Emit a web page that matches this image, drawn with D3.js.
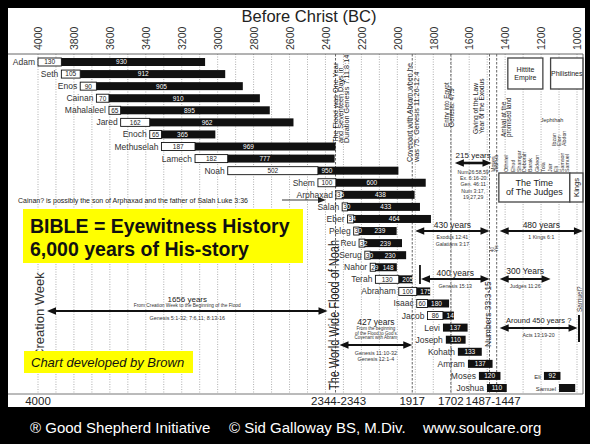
<!DOCTYPE html>
<html><head><meta charset="utf-8">
<script src="https://cdn.jsdelivr.net/npm/d3@7"></script>
<style>body{margin:0;background:#000;} svg{display:block;} text{font-family:"Liberation Sans",Arial,Helvetica,sans-serif;}</style>
</head><body><svg id="c" width="590" height="444"></svg>
<script>
// ---------- DATA ----------
const tickYears = [4000,3800,3600,3400,3200,3000,2800,2600,2400,2200,2000,1800,1600,1400,1200,1000];
const gridYears = d3.range(4000, 999, -100);
const names = ["Adam","Seth","Enos","Cainan","Mahalaleel","Jared","Enoch","Methuselah","Lamech","Noah","Shem","Arphaxad","Salah","Eber","Peleg","Reu","Serug","Nahor","Terah","Abraham","Isaac","Jacob","Levi","Joseph","Kohath","Amram","Moses","Joshua","Eli","Samuel"];
const rowIndex = [0,1,2,3,4,5,6,7,8,9,10,11,12,13,14,15,16,17,18,19,20,21,22,23,24,25,26,27,26,27];
const bornBC = [4000,3870,3765,3675,3605,3540,3378,3313,3126,2944,2442,2342,2307,2277,2243,2213,2181,2151,2122,1992,1892,1832,1746,1730,1663,1607,1546,1501,1184,1100];
const begatAge = [130,105,90,70,65,162,65,187,182,502,100,35,30,34,30,32,30,29,130,100,60,86,0,0,0,0,0,0,0,0];
const lifespan = [930,912,905,910,895,962,365,969,777,950,600,438,433,464,239,239,230,148,205,175,180,147,137,110,133,137,120,110,92,90];
const lifeLabels = ["930","912","905","910","895","962","365","969","777","950","600","438","433","464","239","239","230","148","205","175","180","147","137","110","133","137","120","110","92",""];
const eventYears = [2344,1917,1702,1487,1447];
const bottomLabels = ["4000","2344-2343","1917","1702","1487-1447"];
const bottomFrom = [4000,2344,1917,1702,1487];
const bottomTo = [4000,2343,1917,1702,1447];
const periodLabels = ["1656 years","427 years","215 years","430 years","480 years","400 years","300 Years","Around 450 years ?"];
const periodFrom = [4000,2344,1702,1917,1447,1874,1447,1447];
const periodTo = [2344,1917,1487,1487,967,1487,1147,997];
const periodAbove = [["From Creation Week to the Beginning of the Flood"],["From the beginning","of the Flood to God's","Covenant with Abram"],[],[],[],[],[],[]];
const periodBelow = [["Genesis 5:1-32; 7:6,11; 8:13-16"],["Genesis 11:10-32","Genesis 12:1-4"],["Num26:58,59","Ex. 6:16-20","Gen. 46:11","Num 3:17,","19,27,29"],["Exodus 12:41","Galatians 3:17"],["1 Kings 6:1"],["Genesis 15:13"],["Judges 11:26"],["Acts 13:19-20"]];
const judges = ["Moses","Joshua","Othniel","Ehud","Shamgar","Deborah","Barak","Gideon","Tola","Jair","Eli","Samson","Samuel"];
const judgeYears = [1470,1450,1395,1355,1322,1295,1262,1225,1190,1150,1118,1085,1055];
const minorJudges = ["Ibzan","Elon","Abdon"];
const minorJudgeYears = [1130,1102,1074];
const eraBoxes = ["Hittite\nEmpire","Philistines","The Time\nof The Judges","Kings"];
const eraFrom = [1385,1147,1435,1040];
const eraTo = [1190,967,1040,967];

// ---------- LAYOUT ----------
const F = '"Liberation Sans",Arial,Helvetica,sans-serif';
const svg = d3.select("#c");
const x = d3.scaleLinear().domain([4000,1000]).range([38,577]);
const rowY = d3.scaleLinear().domain([0,27]).range([62,388]);
const TOP = 54, BOT = 394, RIGHT = 583;

svg.append("rect").attr("width",590).attr("height",444).attr("fill","#000");
svg.append("rect").attr("x",8).attr("y",8).attr("width",577).attr("height",399).attr("fill","#fff");

// title
svg.append("text").attr("x",309).attr("y",22).attr("text-anchor","middle").attr("font-size",16.5).attr("fill","#222").text("Before Christ (BC)");

// gridlines
svg.append("g").selectAll("line").data(gridYears).join("line")
  .attr("x1",d=>x(d)).attr("x2",d=>x(d)).attr("y1",TOP).attr("y2",BOT)
  .attr("stroke","#9a9a9a").attr("stroke-width",0.8).attr("stroke-dasharray","1,1.5");

// event lines
svg.append("g").selectAll("line").data(eventYears).join("line")
  .attr("x1",d=>x(d)).attr("x2",d=>x(d)).attr("y1",TOP).attr("y2",BOT)
  .attr("stroke","#555").attr("stroke-width",0.9).attr("stroke-dasharray","2.5,1.5");

// frame
svg.append("line").attr("x1",8).attr("x2",RIGHT).attr("y1",TOP).attr("y2",TOP).attr("stroke","#666").attr("stroke-width",1);
svg.append("line").attr("x1",8).attr("x2",RIGHT).attr("y1",BOT).attr("y2",BOT).attr("stroke","#777").attr("stroke-width",1);
svg.append("line").attr("x1",RIGHT).attr("x2",RIGHT).attr("y1",TOP).attr("y2",BOT).attr("stroke","#666").attr("stroke-width",1);

// top axis
const ag = svg.append("g").attr("transform",`translate(0,${TOP})`)
  .call(d3.axisTop(x).tickValues(tickYears).tickSize(0).tickFormat(d=>String(d)));
ag.select(".domain").remove();
ag.attr("font-family",F).attr("font-size",10.5);
ag.selectAll("text").attr("transform","rotate(-90)").attr("x",4).attr("y",0).attr("dy","0.36em")
  .attr("text-anchor","start").attr("fill","#333");

// helper: rotated multi-line text (reads upward), baseline x of first line, bottom y
function rotText(lines, bx, by, size, step, color, anchor, len){
  const t = svg.append("text").attr("transform",`translate(${bx},${by}) rotate(-90)`)
    .attr("font-size",size).attr("fill",color||"#222").attr("text-anchor",anchor||"start");
  lines.forEach((l,i)=>{
    const s = t.append("tspan").attr("x",0).attr("y",i*step).text(l);
    if (len) s.attr("textLength",len).attr("lengthAdjust","spacingAndGlyphs");
  });
  return t;
}

// event annotations
rotText(["The Flood was One Year","and Seventeen Days in","Duration Genesis 7:11;8:14"], x(2344)+2, 143, 7.3, 5.6);
rotText(["Covenant with Abram when he","was 75. Genesis 11:26-12:4"], x(1917)-0.5, 162, 7.3, 7.2);
rotText(["Entry into Egypt","Genesis. 47:9"], x(1702)-2, 127, 6.3, 5.6);
rotText(["Giving of the Law","Year of the Exodus"], x(1487)-12, 134, 6.6, 6.2);
rotText(["Arrival at the","promised land"], x(1447)+9.5, 137, 6.3, 5.2);

// era boxes
const eraY = [[58,89],[58,89],[173,202],[173,202]];
eraBoxes.forEach((lbl,i)=>{
  const x0 = x(eraFrom[i]), x1 = Math.min(x(eraTo[i]), RIGHT);
  const [y0,y1] = eraY[i];
  svg.append("rect").attr("x",x0).attr("y",y0).attr("width",x1-x0).attr("height",y1-y0)
    .attr("fill","#fff").attr("stroke","#444").attr("stroke-width",1.3);
  const lines = lbl.split("\n");
  if (lbl === "Kings") {
    rotText(["Kings"], (x0+x1)/2+2.5, (y0+y1)/2, 7.5, 0, "#222", "middle");
  } else {
    const size = i===2 ? 9 : 7;
    const t = svg.append("text").attr("text-anchor","middle").attr("font-size",size).attr("fill","#222");
    const lh = size*1.05;
    lines.forEach((l,k)=>t.append("tspan").attr("x",(x0+x1)/2)
      .attr("y",(y0+y1)/2 + size*0.35 + (k-(lines.length-1)/2)*lh).text(l));
  }
});

// judges names
judges.forEach((n,i)=>rotText([n], x(judgeYears[i])+2, 172, 5.3, 0, "#333"));
minorJudges.forEach((n,i)=>rotText([n], x(minorJudgeYears[i])+2, 146, 5.3, 0, "#333"));
svg.append("text").attr("x",552).attr("y",122).attr("text-anchor","middle").attr("font-size",5.5).attr("fill","#333").text("Jephthah");
rotText(["40","Yrs"], 494, 252, 4.5, 4, "#444", "start");

// ---------- PATRIARCH BARS ----------
const BH = 8;
const people = names.map((n,i)=>({name:n,row:rowIndex[i],born:bornBC[i],begat:begatAge[i],life:lifespan[i],label:lifeLabels[i],small:i>=28}));
const pg = svg.append("g");
people.forEach(p=>{
  const y = rowY(p.row);
  const x0 = x(p.born), xb = x(p.born - p.begat), xe = x(p.born - p.life);
  pg.append("text").attr("x",x0-3).attr("y",y+3).attr("text-anchor","end")
    .attr("font-size",p.small?6:8.5).attr("fill","#333").text(p.name);
  if (p.begat>0) {
    pg.append("rect").attr("x",x0).attr("y",y-BH/2).attr("width",xb-x0).attr("height",BH)
      .attr("fill","#fff").attr("stroke","#111").attr("stroke-width",0.9);
  }
  pg.append("rect").attr("x",xb).attr("y",y-BH/2).attr("width",xe-xb).attr("height",BH).attr("fill","#111");
  const wide = (xb-x0) >= 10;
  if (p.begat>0) {
    if (wide) {
      pg.append("text").attr("x",(x0+xb)/2).attr("y",y+2.4).attr("text-anchor","middle")
        .attr("font-size",6.5).attr("fill","#222").text(p.begat);
    } else {
      const s = String(p.begat);
      const t = pg.append("text").attr("x",x0+1).attr("y",y+2.4).attr("font-size",6.5);
      t.append("tspan").attr("fill","#222").text(s[0]);
      t.append("tspan").attr("fill","#fff").text(s.slice(1));
    }
  }
  if (p.label) {
    let cx;
    if (p.begat===0) cx = (x0+xe)/2;
    else if (!wide) cx = (xb+xe)/2 + 2;
    else cx = Math.max((x0+xe)/2, xb+9);
    pg.append("text").attr("x",cx).attr("y",y+2.4).attr("text-anchor","middle")
      .attr("font-size",6.5).attr("fill","#fff").text(p.label);
  }
});

// ---------- PERIOD ARROWS ----------
function arrowLine(x1,x2,y,w,hl,hw){
  svg.append("line").attr("x1",x1+hl-1).attr("x2",x2-hl+1).attr("y1",y).attr("y2",y).attr("stroke","#111").attr("stroke-width",w);
  svg.append("path").attr("d",`M${x1},${y}L${x1+hl},${y-hw}L${x1+hl},${y+hw}Z`).attr("fill","#111");
  svg.append("path").attr("d",`M${x2},${y}L${x2-hl},${y-hw}L${x2-hl},${y+hw}Z`).attr("fill","#111");
}
const pLayout = [
  {ay:311, ly:299, ls:8, aboveY:[305.5], as:4.8, belowY:318.5, bs:5.4, step:6, i0:9, i1:8},
  {ay:345, ly:322, ls:8.5, aboveY:[328.5,333,337.5], as:4.5, belowY:353, bs:5.4, step:6.5, i0:4, i1:0},
  {ay:163, ly:155, ls:8, aboveY:[], as:5, belowY:172, bs:5.2, step:6.3, i0:4, i1:-2},
  {ay:231, ly:225, ls:8.5, aboveY:[], as:5, belowY:237.5, bs:5.2, step:6.2, i0:3, i1:0},
  {ay:231, ly:225, ls:8.5, aboveY:[], as:5, belowY:237.5, bs:5.2, step:6.2, i0:3, i1:0},
  {ay:279, ly:273, ls:8.5, aboveY:[], as:5, belowY:286, bs:5.2, step:6.2, i0:1, i1:0},
  {ay:279, ly:271, ls:8.5, aboveY:[], as:5, belowY:286, bs:5.2, step:6.2, i0:3, i1:0},
  {ay:328, ly:320, ls:7.5, aboveY:[], as:5, belowY:335, bs:5.2, step:6.2, i0:3, i1:0}
];
periodLabels.forEach((lbl,i)=>{
  const L = pLayout[i];
  const x1 = x(periodFrom[i]) + L.i0, x2 = x(periodTo[i]) - L.i1;
  const cx = (x1+x2)/2;
  arrowLine(x1,x2,L.ay, i===2?2.6:2, 9, 3.8);
  svg.append("text").attr("x",cx).attr("y",L.ly+L.ls*0.35).attr("text-anchor","middle").attr("font-size",L.ls).attr("fill","#222").text(lbl);
  periodAbove[i].forEach((t,k)=>svg.append("text").attr("x",cx).attr("y",L.aboveY[k]+L.as*0.35).attr("text-anchor","middle").attr("font-size",L.as).attr("fill","#333").text(t));
  periodBelow[i].forEach((t,k)=>svg.append("text").attr("x",cx).attr("y",L.belowY+k*L.step+L.bs*0.35).attr("text-anchor","middle").attr("font-size",L.bs).attr("fill","#333").text(t));
});
// markers
svg.append("line").attr("x1",x(1874)).attr("x2",x(1874)).attr("y1",265).attr("y2",284).attr("stroke","#111").attr("stroke-width",1.8);
svg.append("line").attr("x1",x(989)).attr("x2",x(989)).attr("y1",315).attr("y2",342).attr("stroke","#111").attr("stroke-width",2);

rotText(["Numbers 33:3-15"], 491, 347, 8.5, 0, "#333");
rotText(["Samuel?"], 582, 312, 6.5, 0, "#333");

// ---------- BIG TEXT ----------
rotText(["Creation Week"], 43.5, 358, 13, 0, "#333");
rotText(["The World Wide Flood of Noah"], 338.5, 390, 14, 0, "#222", "start", 150);

// Cainan note
svg.append("text").attr("x",18).attr("y",202.5).attr("font-size",7).attr("fill","#222")
  .text("Cainan?   is possibly the son of Arphaxad and the father of Salah Luke 3:36");
svg.append("line").attr("x1",282).attr("x2",320).attr("y1",200).attr("y2",200).attr("stroke","#222").attr("stroke-width",0.9);
svg.append("path").attr("d","M326,200L318,197L318,203Z").attr("fill","#222");

// yellow boxes
svg.append("rect").attr("x",23).attr("y",209).attr("width",280).attr("height",54).attr("fill","#ffff00");
svg.append("text").attr("x",30).attr("y",233).attr("font-size",19.5).attr("font-weight","bold").attr("fill","#111").text("BIBLE = Eyewitness History");
svg.append("text").attr("x",30).attr("y",255.5).attr("font-size",19.5).attr("font-weight","bold").attr("fill","#111").text("6,000 years of His-story");
svg.append("rect").attr("x",24).attr("y",351).attr("width",169).attr("height",22).attr("fill","#ffff00");
svg.append("text").attr("x",31).attr("y",366.5).attr("font-size",13).attr("font-style","italic").attr("fill","#111").text("Chart developed by Brown");

// bottom labels
bottomLabels.forEach((l,i)=>{
  svg.append("text").attr("x",(x(bottomFrom[i])+x(bottomTo[i]))/2 + (i===1?3:0)).attr("y",405)
    .attr("text-anchor","middle").attr("font-size",11.5).attr("fill","#222").text(l);
});

// footer
const fy = 433;
svg.append("text").attr("x",30).attr("y",fy).attr("font-size",15).attr("fill","#fff").text("® Good Shepherd Initiative");
svg.append("text").attr("x",229).attr("y",fy).attr("font-size",15).attr("fill","#fff").text("©  Sid Galloway BS, M.Div.");
svg.append("text").attr("x",423).attr("y",fy).attr("font-size",15).attr("fill","#fff").text("www.soulcare.org");
</script></body></html>
